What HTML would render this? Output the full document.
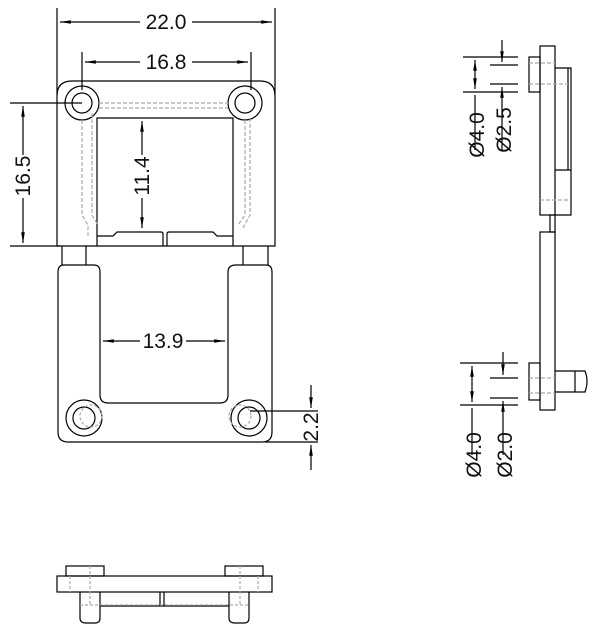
<!DOCTYPE html>
<html><head><style>body{margin:0;background:#fff}svg{display:block}text{font-family:"Liberation Sans",sans-serif;font-size:21px;fill:#111}</style></head><body>
<svg width="609" height="641" viewBox="0 0 609 641" xmlns="http://www.w3.org/2000/svg" fill="none" stroke="#000" stroke-width="1.2">
<defs><marker id="a" markerWidth="10" markerHeight="6" refX="9" refY="3" orient="auto"><path d="M0,1.5 L9,3 L0,4.5Z" fill="#000" stroke="none"/></marker></defs>
<!-- top frame -->
<path d="M72,81 H260 Q275,81 275,96 V246 H57 V96 Q57,81 72,81Z"/>
<path d="M97,246 V118 H233 V246"/>
<path d="M97,236 H113 L117,232 H161 Q163,232 163,234 V246 M167,246 V234 Q167,232 169,232 H213 L217,236 H233"/>
<circle cx="82" cy="103" r="17"/><circle cx="82" cy="103" r="10"/>
<circle cx="245" cy="103" r="17"/><circle cx="245" cy="103" r="10"/>
<path d="M82,120 V215 L88,225 V236 M92,113 V215 L98,225 M99,103 H228 M99,108 H228 M245,120 V215 L238,225 M250,118 V215 L243,228" stroke="#aaa" stroke-dasharray="4,2"/>
<!-- pins -->
<path d="M62,246 V265 M86,246 V265 M243,246 V265 M268,246 V265"/>
<!-- lower frame -->
<path d="M64,265 H94 Q100,265 100,272 V395 Q100,403 108,403 H220 Q228,403 228,395 V272 Q228,265 236,265 H266 Q272,265 272,272 V432 Q272,442 262,442 H68 Q58,442 58,432 V272 Q58,265 64,265Z"/>
<circle cx="84" cy="418" r="18"/><circle cx="84" cy="418" r="11"/>
<circle cx="249" cy="418" r="18"/><circle cx="249" cy="418" r="11"/>
<circle cx="91" cy="416" r="11" stroke="#aaa" stroke-dasharray="3,2"/><circle cx="240" cy="416" r="11" stroke="#aaa" stroke-dasharray="3,2"/>
<!-- dims top -->
<path d="M57,8 V95 M275,8 V95 M82,52 V90 M251,52 V90"/>
<path d="M140,22 H60" marker-end="url(#a)"/><path d="M192,22 H272" marker-end="url(#a)"/>
<path d="M140,62 H85" marker-end="url(#a)"/><path d="M192,62 H248" marker-end="url(#a)"/>
<text x="166" y="29" text-anchor="middle" stroke="none">22.0</text>
<text x="166" y="69" text-anchor="middle" stroke="none">16.8</text>
<path d="M10,103 H82 M10,246 H60"/>
<path d="M23,155 V106" marker-end="url(#a)"/><path d="M23,198 V243" marker-end="url(#a)"/>
<text transform="translate(30,176) rotate(-90)" text-anchor="middle" stroke="none">16.5</text>
<path d="M142,155 V121" marker-end="url(#a)"/><path d="M142,198 V228" marker-end="url(#a)"/>
<text transform="translate(149,176) rotate(-90)" text-anchor="middle" stroke="none">11.4</text>
<path d="M140,341 H103" marker-end="url(#a)"/><path d="M186,341 H225" marker-end="url(#a)"/>
<text x="163" y="348" text-anchor="middle" stroke="none">13.9</text>
<path d="M250,411 H318 M265,442 H318"/>
<path d="M311,385 V408" marker-end="url(#a)"/><path d="M311,470 V445" marker-end="url(#a)"/>
<text transform="translate(318,427) rotate(-90)" text-anchor="middle" stroke="none">2.2</text>
<!-- side view -->
<rect x="540" y="46" width="15" height="169"/><rect x="529" y="57" width="11" height="35"/>
<path d="M555,68 H571 V215 H555 M568,68 V170 M555,170 H571"/>
<rect x="550" y="215" width="5" height="17"/>
<rect x="540" y="232" width="15" height="178"/><rect x="529" y="363" width="11" height="37"/>
<path d="M555,371 H585 Q589,381 585,392 H555 M575,371 V392"/>
<path d="M529,63 H555 M529,84 H568 M540,200 H568 M529,378 H555 M529,393 H555" stroke="#aaa" stroke-dasharray="4,2"/>
<path d="M463,57 H518 M463,92 H518 M490,65 H518 M490,84 H518"/>
<path d="M475,150 V95"/>
<path d="M475,75 V60" marker-end="url(#a)"/><path d="M475,75 V89" marker-end="url(#a)"/>
<path d="M502,40 V62" marker-end="url(#a)"/><path d="M502,150 V87" marker-end="url(#a)"/>
<text transform="translate(484,135) rotate(-90)" text-anchor="middle" stroke="none">Ø4.0</text>
<text transform="translate(511,130) rotate(-90)" text-anchor="middle" stroke="none">Ø2.5</text>
<path d="M460,363 H518 M460,405 H518 M490,378 H518 M490,398 H518"/>
<path d="M472,455 V408"/><path d="M472,383 V366" marker-end="url(#a)"/><path d="M472,383 V402" marker-end="url(#a)"/>
<path d="M503,352 V375" marker-end="url(#a)"/><path d="M503,455 V401" marker-end="url(#a)"/>
<text transform="translate(481,455) rotate(-90)" text-anchor="middle" stroke="none">Ø4.0</text>
<text transform="translate(512,455) rotate(-90)" text-anchor="middle" stroke="none">Ø2.0</text>
<!-- bottom view -->
<rect x="57" y="576" width="215" height="16"/>
<rect x="66" y="566" width="38" height="10"/><rect x="225" y="566" width="38" height="10"/>
<path d="M80,592 V618 Q80,623 86,623 H95 Q100,623 100,618 V592 M229,592 V618 Q229,623 235,623 H244 Q249,623 249,618 V592"/>
<path d="M100,606 H229 M160,592 V606 M164,592 V606"/>
<path d="M70,576 V592 M90,566 V606 M258,576 V592 M240,566 V606 M80,605 H250" stroke="#aaa" stroke-dasharray="3,2"/>
</svg>
</body></html>
